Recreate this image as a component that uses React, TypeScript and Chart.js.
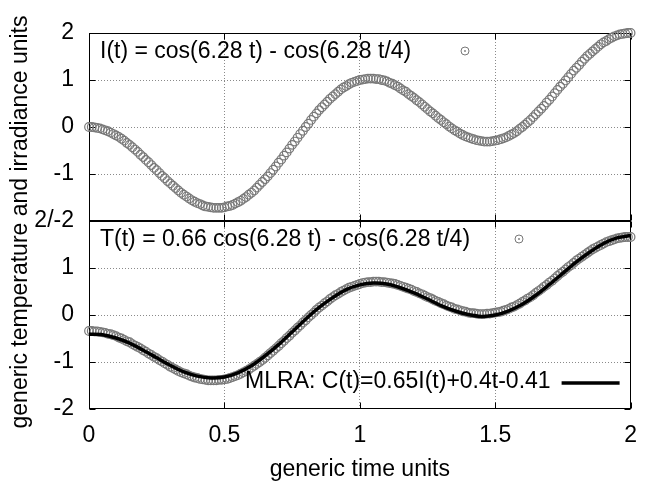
import { useEffect, useRef } from "react";
import { Chart, registerables } from "chart.js";

Chart.register(...registerables);

// ---- data -------------------------------------------------------------
const TIME = [
  0, 0.01, 0.02, 0.03, 0.04, 0.05, 0.06, 0.07, 0.08, 0.09,
  0.1, 0.11, 0.12, 0.13, 0.14, 0.15, 0.16, 0.17, 0.18, 0.19,
  0.2, 0.21, 0.22, 0.23, 0.24, 0.25, 0.26, 0.27, 0.28, 0.29,
  0.3, 0.31, 0.32, 0.33, 0.34, 0.35, 0.36, 0.37, 0.38, 0.39,
  0.4, 0.41, 0.42, 0.43, 0.44, 0.45, 0.46, 0.47, 0.48, 0.49,
  0.5, 0.51, 0.52, 0.53, 0.54, 0.55, 0.56, 0.57, 0.58, 0.59,
  0.6, 0.61, 0.62, 0.63, 0.64, 0.65, 0.66, 0.67, 0.68, 0.69,
  0.7, 0.71, 0.72, 0.73, 0.74, 0.75, 0.76, 0.77, 0.78, 0.79,
  0.8, 0.81, 0.82, 0.83, 0.84, 0.85, 0.86, 0.87, 0.88, 0.89,
  0.9, 0.91, 0.92, 0.93, 0.94, 0.95, 0.96, 0.97, 0.98, 0.99,
  1.0, 1.01, 1.02, 1.03, 1.04, 1.05, 1.06, 1.07, 1.08, 1.09,
  1.1, 1.11, 1.12, 1.13, 1.14, 1.15, 1.16, 1.17, 1.18, 1.19,
  1.2, 1.21, 1.22, 1.23, 1.24, 1.25, 1.26, 1.27, 1.28, 1.29,
  1.3, 1.31, 1.32, 1.33, 1.34, 1.35, 1.36, 1.37, 1.38, 1.39,
  1.4, 1.41, 1.42, 1.43, 1.44, 1.45, 1.46, 1.47, 1.48, 1.49,
  1.5, 1.51, 1.52, 1.53, 1.54, 1.55, 1.56, 1.57, 1.58, 1.59,
  1.6, 1.61, 1.62, 1.63, 1.64, 1.65, 1.66, 1.67, 1.68, 1.69,
  1.7, 1.71, 1.72, 1.73, 1.74, 1.75, 1.76, 1.77, 1.78, 1.79,
  1.8, 1.81, 1.82, 1.83, 1.84, 1.85, 1.86, 1.87, 1.88, 1.89,
  1.9, 1.91, 1.92, 1.93, 1.94, 1.95, 1.96, 1.97, 1.98, 1.99,
  2.0,
];

// I(t) = cos(6.28 t) - cos(6.28 t/4)   (top panel)
const IRRADIANCE = [
  0, 0, -0.01, -0.02, -0.03, -0.05, -0.07, -0.09, -0.12, -0.15,
  -0.18, -0.21, -0.25, -0.29, -0.34, -0.38, -0.43, -0.48, -0.53, -0.59,
  -0.64, -0.70, -0.75, -0.81, -0.87, -0.92, -0.98, -1.04, -1.09, -1.15,
  -1.20, -1.25, -1.30, -1.35, -1.40, -1.44, -1.48, -1.52, -1.56, -1.59,
  -1.62, -1.64, -1.67, -1.69, -1.70, -1.71, -1.72, -1.72, -1.72, -1.72,
  -1.71, -1.69, -1.68, -1.66, -1.63, -1.60, -1.57, -1.53, -1.49, -1.44,
  -1.40, -1.35, -1.29, -1.23, -1.17, -1.11, -1.05, -0.98, -0.91, -0.84,
  -0.76, -0.69, -0.61, -0.54, -0.46, -0.38, -0.31, -0.23, -0.15, -0.08,
  0, 0.07, 0.15, 0.22, 0.29, 0.36, 0.42, 0.48, 0.54, 0.60,
  0.65, 0.70, 0.75, 0.80, 0.84, 0.87, 0.91, 0.94, 0.96, 0.98,
  1.00, 1.01, 1.02, 1.03, 1.03, 1.03, 1.02, 1.02, 1.00, 0.99,
  0.97, 0.94, 0.92, 0.89, 0.86, 0.82, 0.78, 0.75, 0.70, 0.66,
  0.62, 0.57, 0.53, 0.48, 0.43, 0.38, 0.33, 0.29, 0.24, 0.19,
  0.15, 0.10, 0.06, 0.01, -0.03, -0.07, -0.10, -0.14, -0.17, -0.20,
  -0.22, -0.24, -0.26, -0.28, -0.29, -0.30, -0.31, -0.31, -0.31, -0.30,
  -0.29, -0.28, -0.26, -0.24, -0.22, -0.19, -0.16, -0.13, -0.09, -0.04,
  0, 0.05, 0.10, 0.15, 0.21, 0.27, 0.33, 0.39, 0.45, 0.52,
  0.58, 0.65, 0.72, 0.79, 0.86, 0.92, 0.99, 1.06, 1.13, 1.20,
  1.26, 1.32, 1.39, 1.45, 1.51, 1.56, 1.61, 1.66, 1.71, 1.76,
  1.80, 1.83, 1.87, 1.90, 1.93, 1.95, 1.97, 1.98, 1.99, 2.00,
  2.00,
];

// T(t) = 0.66 cos(6.28 t) - cos(6.28 t/4)   (bottom panel)
const TEMPERATURE = [
  -0.34, -0.34, -0.35, -0.35, -0.36, -0.37, -0.38, -0.40, -0.41, -0.43,
  -0.45, -0.48, -0.50, -0.53, -0.56, -0.58, -0.62, -0.65, -0.68, -0.71,
  -0.75, -0.78, -0.82, -0.85, -0.89, -0.92, -0.96, -0.99, -1.03, -1.06,
  -1.10, -1.13, -1.16, -1.19, -1.22, -1.24, -1.26, -1.29, -1.31, -1.33,
  -1.34, -1.36, -1.37, -1.38, -1.39, -1.39, -1.39, -1.39, -1.38, -1.38,
  -1.37, -1.36, -1.34, -1.32, -1.30, -1.28, -1.25, -1.22, -1.19, -1.16,
  -1.12, -1.08, -1.04, -1.00, -0.96, -0.91, -0.86, -0.81, -0.76, -0.71,
  -0.66, -0.60, -0.55, -0.49, -0.44, -0.38, -0.33, -0.27, -0.22, -0.16,
  -0.11, -0.05, 0.00, 0.05, 0.11, 0.16, 0.20, 0.25, 0.29, 0.34,
  0.38, 0.42, 0.45, 0.49, 0.52, 0.55, 0.58, 0.60, 0.62, 0.64,
  0.66, 0.68, 0.69, 0.70, 0.70, 0.71, 0.71, 0.71, 0.70, 0.70,
  0.69, 0.68, 0.67, 0.66, 0.64, 0.62, 0.60, 0.58, 0.56, 0.54,
  0.51, 0.49, 0.46, 0.44, 0.41, 0.38, 0.36, 0.33, 0.30, 0.28,
  0.25, 0.23, 0.20, 0.18, 0.16, 0.13, 0.12, 0.10, 0.08, 0.07,
  0.05, 0.04, 0.04, 0.03, 0.02, 0.02, 0.02, 0.03, 0.03, 0.04,
  0.05, 0.06, 0.07, 0.09, 0.11, 0.13, 0.16, 0.18, 0.21, 0.24,
  0.28, 0.31, 0.35, 0.38, 0.42, 0.47, 0.51, 0.55, 0.60, 0.64,
  0.69, 0.73, 0.78, 0.83, 0.88, 0.92, 0.97, 1.02, 1.06, 1.11,
  1.16, 1.20, 1.24, 1.28, 1.32, 1.36, 1.40, 1.43, 1.46, 1.49,
  1.52, 1.55, 1.57, 1.59, 1.61, 1.63, 1.64, 1.65, 1.66, 1.66,
  1.66,
];

// MLRA fit C(t) = 0.65 I(t) + 0.4 t - 0.41
const MLRA_TIME = [
  0, 0.05, 0.1, 0.15, 0.2, 0.25, 0.3, 0.35, 0.4, 0.45,
  0.5, 0.55, 0.6, 0.65, 0.7, 0.75, 0.8, 0.85, 0.9, 0.95,
  1.0, 1.05, 1.1, 1.15, 1.2, 1.25, 1.3, 1.35, 1.4, 1.45,
  1.5, 1.55, 1.6, 1.65, 1.7, 1.75, 1.8, 1.85, 1.9, 1.95,
  2.0,
];
const MLRA_FIT = [
  -0.41, -0.42, -0.49, -0.60, -0.75, -0.91, -1.07, -1.21, -1.30, -1.34,
  -1.32, -1.23, -1.08, -0.87, -0.63, -0.36, -0.09, 0.16, 0.37, 0.54,
  0.64, 0.68, 0.66, 0.58, 0.47, 0.34, 0.20, 0.09, 0.01, -0.03,
  0.00, 0.09, 0.23, 0.42, 0.65, 0.89, 1.13, 1.34, 1.52, 1.64,
  1.69,
];

const X_TICKS = [0, 0.5, 1, 1.5, 2];
const X_TICK_LABELS = ["0", "0.5", "1", "1.5", "2"];
const Y_TICKS = [2, 1, 0, -1, -2];
const Y_TOP_LABELS = ["2", "1", "0", "-1", "2/-2"];
const Y_BOTTOM_LABELS = ["", "1", "0", "-1", "-2"];

const KEY_TOP = "I(t) = cos(6.28 t) - cos(6.28 t/4)";
const KEY_BOTTOM = "T(t) = 0.66 cos(6.28 t) - cos(6.28 t/4)";
const KEY_MLRA = "MLRA: C(t)=0.65I(t)+0.4t-0.41";
const X_TITLE = "generic time units";
const Y_TITLE = "generic temperature and irradiance units";

// ---- style ------------------------------------------------------------
const FONT_FAMILY = "'Liberation Sans', Arial, Helvetica, sans-serif";
const FONT_SIZE = 23;
const CANVAS_FONT = `${FONT_SIZE}px ${FONT_FAMILY}`;
const POINT_COLOR = "#787878";
const GRID_COLOR = "#8a8a8a";
const TICK_LEN = 6;

function drawKeyCircle(ctx: CanvasRenderingContext2D, x: number, y: number) {
  ctx.save();
  ctx.strokeStyle = POINT_COLOR;
  ctx.fillStyle = POINT_COLOR;
  ctx.lineWidth = 1;
  ctx.beginPath();
  ctx.arc(x, y, 4, 0, Math.PI * 2);
  ctx.stroke();
  ctx.beginPath();
  ctx.arc(x, y, 0.9, 0, Math.PI * 2);
  ctx.fill();
  ctx.restore();
}

const framePlugin = {
  id: "gnuFrame",
  beforeDatasetsDraw(chart: any) {
    const { ctx, chartArea } = chart;
    const xs = chart.scales.x;
    const panels = [chart.scales.yT, chart.scales.yB];
    const L = Math.round(chartArea.left) + 0.5;
    const R = Math.round(chartArea.right) - 0.5;
    ctx.save();
    ctx.strokeStyle = "#000";
    ctx.lineWidth = 1;
    for (const s of panels) {
      const T = Math.round(s.top) + 0.5;
      const B = Math.round(s.bottom) - 0.5;
      ctx.strokeRect(L, T, R - L, B - T);
      ctx.beginPath();
      for (const v of X_TICKS) {
        const px = Math.round(xs.getPixelForValue(v)) + 0.5;
        ctx.moveTo(px, T);
        ctx.lineTo(px, T + TICK_LEN);
        ctx.moveTo(px, B);
        ctx.lineTo(px, B - TICK_LEN);
      }
      for (const v of Y_TICKS) {
        const py = Math.round(s.getPixelForValue(v)) + 0.5;
        ctx.moveTo(L, py);
        ctx.lineTo(L + TICK_LEN, py);
        ctx.moveTo(R, py);
        ctx.lineTo(R - TICK_LEN, py);
      }
      ctx.stroke();
    }
    ctx.restore();
  },
  afterDatasetsDraw(chart: any) {
    const { ctx, chartArea } = chart;
    const yT = chart.scales.yT;
    const yB = chart.scales.yB;
    ctx.save();
    ctx.font = CANVAS_FONT;
    ctx.fillStyle = "#000";
    ctx.textBaseline = "alphabetic";
    // top key
    ctx.textAlign = "left";
    ctx.fillText(KEY_TOP, chartArea.left + 11, yT.top + 25);
    drawKeyCircle(ctx, chartArea.left + 376, yT.top + 18);
    // bottom key
    ctx.fillText(KEY_BOTTOM, chartArea.left + 11, yB.top + 25);
    drawKeyCircle(ctx, chartArea.left + 430, yB.top + 18);
    // MLRA key
    ctx.textAlign = "right";
    ctx.fillText(KEY_MLRA, chartArea.right - 80, yB.bottom - 21);
    ctx.strokeStyle = "#000";
    ctx.lineWidth = 3.5;
    ctx.beginPath();
    ctx.moveTo(chartArea.right - 69, yB.bottom - 26);
    ctx.lineTo(chartArea.right - 11, yB.bottom - 26);
    ctx.stroke();
    // y title (spans both panels)
    ctx.translate(27, (chartArea.top + chartArea.bottom) / 2 + 1);
    ctx.rotate(-Math.PI / 2);
    ctx.textAlign = "center";
    ctx.fillText(Y_TITLE, 0, 0);
    ctx.restore();
  },
};

function yAxis(labels: string[]) {
  return {
    type: "linear" as const,
    position: "left" as const,
    stack: "panels",
    stackWeight: 1,
    min: -2,
    max: 2,
    afterBuildTicks: (scale: any) => {
      scale.ticks = Y_TICKS.slice().reverse().map((value) => ({ value }));
    },
    afterFit: (scale: any) => {
      scale.width = 89;
    },
    ticks: {
      autoSkip: false,
      padding: 15,
      color: "#000",
      font: { family: FONT_FAMILY, size: FONT_SIZE },
      callback: (value: number) => labels[Y_TICKS.indexOf(value)] ?? "",
    },
    grid: {
      drawTicks: false,
      lineWidth: 1,
      color: (c: any) =>
        c.tick && Math.abs(c.tick.value) === 2 ? "rgba(0,0,0,0)" : GRID_COLOR,
    },
    border: { display: false, dash: [1, 2] },
  };
}

export default function App() {
  const ref = useRef<HTMLCanvasElement>(null);

  useEffect(() => {
    const canvas = ref.current;
    if (!canvas) return;
    const pointStyle = {
      showLine: false,
      pointRadius: 4.3,
      pointHoverRadius: 4.3,
      pointBorderWidth: 1.2,
      pointBorderColor: POINT_COLOR,
      borderColor: POINT_COLOR,
      pointBackgroundColor: "rgba(0,0,0,0)",
      backgroundColor: "rgba(0,0,0,0)",
      clip: false as const,
    };
    const chart = new Chart(canvas, {
      type: "scatter",
      data: {
        datasets: [
          {
            label: KEY_MLRA,
            data: MLRA_TIME.map((t, i) => ({ x: t, y: MLRA_FIT[i] })),
            yAxisID: "yB",
            showLine: true,
            borderColor: "#000",
            borderWidth: 3.5,
            pointRadius: 0,
            tension: 0.3,
            clip: false as const,
          },
          {
            label: KEY_BOTTOM,
            data: TIME.map((t, i) => ({ x: t, y: TEMPERATURE[i] })),
            yAxisID: "yB",
            ...pointStyle,
          },
          {
            label: KEY_TOP,
            data: TIME.map((t, i) => ({ x: t, y: IRRADIANCE[i] })),
            yAxisID: "yT",
            ...pointStyle,
          },
        ],
      },
      options: {
        responsive: false,
        animation: false,
        devicePixelRatio: 1,
        events: [],
        layout: { padding: { left: 0, right: 14, top: 33, bottom: 0 } },
        plugins: {
          legend: { display: false },
          tooltip: { enabled: false },
        },
        scales: {
          x: {
            type: "linear",
            position: "bottom",
            min: 0,
            max: 2,
            afterBuildTicks: (scale: any) => {
              scale.ticks = X_TICKS.map((value) => ({ value }));
            },
            afterFit: (scale: any) => {
              scale.height = 72;
            },
            ticks: {
              autoSkip: false,
              maxRotation: 0,
              minRotation: 0,
              padding: 13,
              color: "#000",
              font: { family: FONT_FAMILY, size: FONT_SIZE },
              callback: (value: any) =>
                X_TICK_LABELS[X_TICKS.indexOf(Number(value))] ?? "",
            },
            grid: {
              drawTicks: false,
              lineWidth: 1,
              color: (c: any) =>
                c.tick && (c.tick.value === 0 || c.tick.value === 2)
                  ? "rgba(0,0,0,0)"
                  : GRID_COLOR,
            },
            border: { display: false, dash: [1, 2] },
            title: {
              display: true,
              text: X_TITLE,
              color: "#000",
              font: { family: FONT_FAMILY, size: FONT_SIZE },
              padding: { top: 0, bottom: -2 },
            },
          },
          yB: yAxis(Y_BOTTOM_LABELS),
          yT: yAxis(Y_TOP_LABELS),
        },
      } as any,
      plugins: [framePlugin],
    });
    return () => chart.destroy();
  }, []);

  return (
    <div style={{ position: "absolute", left: 0, top: 0, width: 650, height: 481, background: "#fff" }}>
      <canvas ref={ref} width={650} height={481} style={{ display: "block", width: 650, height: 481 }} />
    </div>
  );
}
